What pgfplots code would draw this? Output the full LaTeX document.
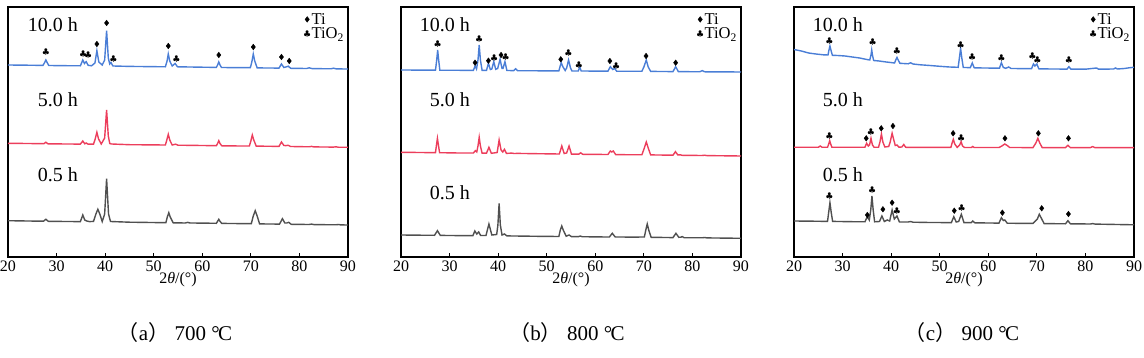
\documentclass[border=0pt]{standalone}
\usepackage{pgfplots}
\pgfplotsset{compat=1.18}
\usepackage{fontspec}
\setmainfont{Liberation Serif}
\newfontfamily\cjk{Noto Sans CJK SC}
\definecolor{cblue}{RGB}{74,126,214}
\definecolor{cred}{RGB}{236,62,92}
\definecolor{cgray}{RGB}{80,80,80}
\pgfplotsset{
  xrdax/.style={width=340pt,height=250pt,scale only axis,anchor=south west,
    xmin=20,xmax=90,ymin=-257,ymax=-7,xtick={20,30,...,90},ytick=\empty,
    tick align=inside,xtick pos=left,major tick length=4pt,
    xtick style={line width=0.8pt,black},axis line style={line width=1.1pt},
    ticklabel style={font=\fontsize{16}{16}\selectfont},
    /pgf/number format/assume math mode=true,
    xlabel={2\textit{θ}/(°)},
    xlabel style={font=\fontsize{16}{16}\selectfont,yshift=6pt},
    clip=false,
    legend style={draw=none,fill=none,at={(1,1)},anchor=north east,xshift=-3pt,yshift=-5pt,
      font=\fontsize{16.5}{16.5}\selectfont,row sep=0pt,inner sep=0pt,
      nodes={inner sep=1pt,font=\fontsize{16.5}{16.5}\selectfont}},
    legend cell align=left},
  curve/.style={line width=1.4pt,forget plot},
  timark/.style={only marks,mark=diamond*,mark size=2.8pt,black,
    legend image code/.code={\draw[##1] plot coordinates {(0.08cm,0cm)};}},
  tiomark/.style={only marks,mark=text,black,
    text mark={\fontsize{8.5}{8.5}\selectfont$\clubsuit$},
    legend image code/.code={\draw[##1] plot coordinates {(0.08cm,0cm)};}},
}
\begin{document}
\begin{tikzpicture}
\path[use as bounding box] (0pt,0pt) rectangle (1144pt,-358pt);
% ---------------- (a) 700
\begin{axis}[xrdax,at={(8pt,-257pt)}]
\addplot[curve,cblue] coordinates {(20,-65)(24,-65.2)(27.2,-65.4)(27.55,-62.5)(27.8,-60)(28.05,-62.5)(28.4,-65.5)(32,-65.7)(34.9,-65.8)(35.4,-60)(35.75,-63.5)(36.1,-61.7)(36.5,-65.3)(37.2,-65.8)(37.9,-63)(38.3,-50.7)(38.7,-62)(39.4,-65)(39.9,-60)(40.3,-30.7)(40.65,-58)(40.95,-64)(41.2,-62.5)(41.6,-66)(45,-66.4)(52.4,-66.8)(52.75,-61)(53.0,-54)(53.3,-61)(53.8,-66)(54.4,-63.5)(54.9,-66.8)(60,-67.2)(62.9,-67.4)(63.15,-65)(63.4,-62)(63.65,-65)(63.95,-67.5)(68,-67.7)(69.9,-67.6)(70.2,-62)(70.5,-54)(70.8,-61)(71.3,-67.9)(75.8,-68.1)(76.3,-64)(76.8,-67.5)(77.2,-67)(77.7,-66.2)(78.2,-68.3)(81.5,-68.5)(82.0,-67.8)(82.6,-68.6)(86.5,-68.8)(87,-68.2)(87.6,-68.9)(90,-69)};
\addplot[curve,cred] coordinates {(20,-143.3)(24,-143.5)(27.4,-143.7)(27.8,-142.2)(28.2,-143.8)(32,-144)(34.9,-144.1)(35.4,-141)(35.8,-143.8)(36.1,-143)(36.5,-144.2)(37.6,-144.2)(37.95,-139)(38.3,-132.3)(38.65,-139)(39.2,-144)(39.9,-138)(40.3,-110)(40.65,-136)(40.95,-143.5)(41.3,-144)(45,-144.7)(52.4,-145)(52.7,-140)(53.0,-134.3)(53.3,-140)(53.8,-145)(54.5,-144.2)(55,-145.2)(60,-145.5)(62.9,-145.7)(63.15,-143.5)(63.4,-140.7)(63.65,-143.5)(64,-145.8)(68,-146)(69.7,-146)(70.0,-141)(70.3,-135)(70.6,-140)(71.1,-146.1)(75.8,-146.4)(76.3,-142)(76.8,-145.5)(77.2,-145.6)(77.7,-145.3)(78.2,-146.5)(82,-146.8)(82.5,-146.4)(83,-146.9)(87,-147.1)(87.5,-146.8)(88,-147.2)(90,-147.3)};
\addplot[curve,cgray] coordinates {(20,-220.7)(24,-221)(27.3,-221.2)(27.8,-219.3)(28.3,-221.3)(32,-221.5)(34.9,-221.6)(35.4,-215)(35.8,-220)(36.2,-221)(36.8,-221.6)(37.6,-221.4)(38.1,-214)(38.5,-209.3)(38.9,-214)(39.4,-221.5)(39.9,-214)(40.3,-178.7)(40.7,-214)(41.1,-221.5)(45,-222.2)(52.5,-222.7)(52.8,-217)(53.1,-212.7)(53.4,-217)(54,-222.8)(56.5,-223)(57,-222.4)(57.5,-223)(60,-223.1)(62.9,-223.3)(63.15,-221.3)(63.4,-219.3)(63.65,-221.3)(64,-223.4)(68,-223.6)(70.1,-223.6)(70.5,-216)(70.9,-210.7)(71.3,-216)(71.8,-223.9)(75.9,-224.1)(76.5,-218.7)(77.0,-223)(77.4,-223)(77.8,-222.3)(78.3,-224.3)(82,-224.5)(82.5,-224.1)(83,-224.6)(87.5,-224.8)(88,-224.5)(88.5,-224.9)(90,-225)};
\addplot[timark] coordinates {(38.3,-44)(40.3,-23)(53.0,-46)(63.4,-55)(70.5,-47)(76.3,-57)(77.9,-61)};
\addlegendentry{Ti}
\addplot[tiomark] coordinates {(27.8,-52)(35.5,-54)(36.5,-55)(41.7,-59)(54.7,-59)};
\addlegendentry{TiO\textsubscript{2}}
\end{axis}
% ---------------- (b) 800
\begin{axis}[xrdax,at={(401pt,-257pt)}]
\addplot[curve,cblue] coordinates {(20,-70)(24,-70.1)(27.1,-70.2)(27.35,-60)(27.55,-50)(27.75,-60)(28.0,-70.2)(32,-70.3)(34.9,-70.4)(35.25,-66)(35.55,-69)(35.85,-60)(36.1,-45)(36.35,-60)(36.7,-70.4)(37.6,-70.4)(38.0,-63.3)(38.4,-69.5)(38.7,-69)(39.1,-61.7)(39.5,-69.3)(39.9,-68.5)(40.4,-59.3)(40.8,-68.5)(41.0,-68.5)(41.4,-61.7)(41.8,-70.5)(43.2,-70.6)(43.6,-68.8)(44.0,-70.7)(48,-70.8)(52.5,-70.9)(52.75,-66.5)(53.0,-62.7)(53.3,-66.5)(53.8,-70.5)(54.1,-68)(54.5,-60)(54.9,-68)(55.2,-71)(56.5,-71)(56.8,-67)(57.1,-71)(60,-71.1)(62.6,-71.2)(63.1,-66.7)(63.6,-69.5)(64.0,-68.5)(64.4,-71.2)(68,-71.3)(69.6,-71.2)(70.0,-67)(70.5,-60)(70.9,-67)(71.4,-71.4)(76.0,-71.6)(76.55,-66.7)(77.1,-71.6)(81.5,-71.8)(82,-70.6)(82.5,-71.8)(87,-71.9)(90,-72)};
\addplot[curve,cred] coordinates {(20,-152.3)(24,-152.5)(27.1,-152.7)(27.3,-145)(27.5,-138.3)(27.7,-145)(27.95,-152.7)(32,-153)(34.9,-153)(35.3,-150.7)(35.6,-152)(35.85,-146)(36.1,-137.3)(36.35,-146)(36.7,-153.2)(37.6,-153.2)(38.1,-147.3)(38.6,-153.3)(39.8,-152.5)(40.2,-140)(40.6,-150)(40.95,-152)(41.3,-149.3)(41.7,-153.4)(42.8,-153.1)(43.3,-153.5)(44,-153.4)(48,-153.7)(52.6,-154)(53.1,-146)(53.6,-153.5)(54.1,-153)(54.6,-146)(55.1,-154.2)(56.6,-154.2)(57.0,-152.8)(57.4,-154.3)(60,-154.4)(62.6,-154.5)(63.1,-151)(63.4,-152)(63.7,-151)(64.2,-154.6)(68,-154.8)(69.6,-154.7)(70.1,-148)(70.5,-142)(70.9,-148)(71.4,-154.9)(76.0,-155.2)(76.5,-151.7)(77.0,-155)(77.5,-154.8)(77.9,-155.3)(82,-155.5)(82.5,-155.2)(83,-155.6)(90,-156)};
\addplot[curve,cgray] coordinates {(20,-235)(24,-235.2)(26.9,-235.3)(27.5,-230.7)(28.1,-235.4)(32,-235.6)(34.8,-235.7)(35.2,-231)(35.6,-234)(36.0,-232)(36.4,-235.5)(37.5,-235.5)(38.1,-224)(38.7,-235)(39.7,-234.5)(39.95,-225)(40.2,-203.3)(40.45,-225)(40.8,-235)(41.3,-234)(41.8,-235.9)(48,-236.3)(52.5,-236.5)(52.8,-230)(53.1,-226)(53.4,-230)(54.0,-236.2)(54.6,-235)(55.1,-236.6)(56.5,-236.7)(56.9,-236)(57.3,-236.7)(60,-236.9)(62.9,-237)(63.5,-233.3)(64.1,-237)(68,-237.1)(70.1,-237)(70.4,-230)(70.7,-224)(71.0,-230)(71.5,-237.3)(76.0,-237.6)(76.6,-233.3)(77.2,-237.3)(77.6,-237.2)(77.9,-236.6)(78.3,-237.7)(82,-237.8)(82.5,-237.5)(83,-237.9)(90,-238.3)};
\addplot[timark] coordinates {(35.25,-62.7)(38.0,-60.7)(40.6,-55)(52.9,-59.3)(63.0,-61)(70.45,-56)(76.55,-62.7)};
\addlegendentry{Ti}
\addplot[tiomark] coordinates {(27.55,-44)(36.1,-39.5)(39.2,-58.3)(41.55,-57.5)(54.45,-53.3)(56.65,-65)(64.3,-66.7)};
\addlegendentry{TiO\textsubscript{2}}
\end{axis}
% ---------------- (c) 900
\begin{axis}[xrdax,at={(794pt,-257pt)}]
\addplot[curve,cblue] coordinates {(20,-49.5)(21.5,-51)(23,-53)(24.5,-54)(26,-54.8)(27.0,-55)(27.2,-50)(27.4,-46)(27.6,-50)(27.9,-55.3)(29,-55.5)(30.5,-56)(32,-57)(33.5,-58)(35,-59.5)(35.6,-60)(35.85,-55)(36.0,-50)(36.15,-55)(36.4,-60.5)(37.5,-61)(39,-62)(40.7,-63)(40.95,-60)(41.2,-57.5)(41.45,-60)(41.8,-63.3)(43.5,-63.8)(44,-62.8)(44.5,-64)(46,-64.8)(48,-65.5)(50,-66.3)(52,-67)(53.8,-67.3)(54.05,-58)(54.3,-48.5)(54.55,-58)(54.85,-67.5)(56.3,-67.6)(56.7,-63)(57.1,-67.8)(59,-68)(61,-68.1)(62.3,-68.2)(62.7,-62.7)(63.1,-67.5)(63.6,-68.3)(64.2,-67)(64.7,-68.5)(67,-68.6)(68.9,-68.7)(69.3,-64)(69.6,-66)(70.0,-64)(70.4,-68.8)(73,-69)(76.2,-69.1)(76.6,-66.7)(77.0,-69.1)(80,-69.2)(82.3,-68)(82.7,-69.2)(85.8,-69)(86.2,-68)(86.6,-69)(88,-68.5)(89,-67.8)(90,-67.3)};
\addplot[curve,cred] coordinates {(20,-147.3)(25,-147.3)(25.4,-146)(25.8,-147.3)(26.9,-147.3)(27.15,-144)(27.35,-140.7)(27.55,-144)(27.8,-147.3)(32,-147.3)(34.6,-147.3)(34.95,-143.3)(35.3,-146)(35.55,-145)(35.85,-138.3)(36.15,-145)(36.5,-147.3)(37.4,-147.3)(37.7,-142)(38.0,-134)(38.3,-142)(38.7,-147)(39.5,-146.5)(39.8,-142)(40.2,-133.3)(40.55,-140)(40.85,-145.5)(41.2,-145)(41.6,-147.2)(42.2,-147)(42.6,-144.5)(43.0,-147.3)(48,-147.4)(52.3,-147.4)(52.55,-143)(52.8,-139.3)(53.1,-144)(53.6,-147.4)(54.1,-145)(54.4,-141.7)(54.7,-146)(55.1,-147.5)(56.5,-147.5)(56.8,-146.5)(57.1,-147.5)(62.2,-147.5)(62.8,-146)(63.4,-144)(63.9,-145.5)(64.4,-147.5)(69.2,-147.6)(69.8,-143)(70.2,-138.3)(70.6,-143)(71.1,-147.6)(75.9,-147.6)(76.4,-145.3)(76.9,-147.6)(81,-147.6)(81.5,-146.6)(82,-147.7)(90,-147.7)};
\addplot[curve,cgray] coordinates {(20,-221)(24,-221.2)(26.9,-221.4)(27.15,-212)(27.4,-202.7)(27.65,-212)(27.95,-221.4)(32,-221.7)(34.6,-221.8)(35.1,-216.7)(35.5,-220)(35.8,-210)(36.05,-196)(36.3,-210)(36.6,-221.8)(37.6,-221.5)(38.1,-216)(38.6,-221.5)(39.2,-220)(39.7,-221)(40.2,-210)(40.65,-219)(41.2,-216)(41.7,-222)(43.5,-222)(44,-221.5)(44.5,-222.2)(48,-222.5)(52.4,-222.6)(52.9,-216.7)(53.4,-222)(53.9,-221.5)(54.45,-214.3)(55.0,-222.7)(56.5,-222.7)(56.8,-221)(57.2,-222.8)(60,-223)(62.2,-223.1)(62.7,-217.7)(63.1,-220.5)(63.4,-220)(63.9,-223.2)(67,-223.4)(69.2,-223.4)(69.7,-221)(70.1,-219)(70.5,-214.3)(70.9,-218)(71.5,-223.6)(75.9,-223.8)(76.4,-220.7)(76.9,-223.8)(81,-224)(81.5,-223.6)(82,-224.1)(90,-224.8)};
\addplot[timark] coordinates {(34.87,-138.3)(37.96,-128.3)(40.37,-126)(52.76,-133.3)(63.43,-138.3)(70.31,-133.3)(76.51,-138.3)(35.1,-215)(38.3,-209.3)(40.2,-202.7)(53.0,-210.7)(62.9,-212.7)(71.0,-208.3)(76.5,-214)};
\addlegendentry{Ti}
\addplot[tiomark] coordinates {(27.3,-41)(36.2,-42.7)(41.2,-51)(54.3,-45)(56.7,-57.3)(62.7,-58.3)(69.1,-56.3)(70.1,-60.3)(76.6,-60)(27.3,-136.7)(35.83,-132.7)(54.41,-138.3)(27.3,-196)(36.1,-190)(41.2,-211.7)(54.5,-208.3)};
\addlegendentry{TiO\textsubscript{2}}
\end{axis}
% ---------------- sample labels
\begin{scope}[every node/.style={font=\fontsize{20}{20}\selectfont,anchor=base east,inner sep=0pt}]
\node at (78pt,-32pt) {10.0 h};
\node at (78pt,-107pt) {5.0 h};
\node at (78pt,-181.7pt) {0.5 h};
\node at (470pt,-32pt) {10.0 h};
\node at (470pt,-107pt) {5.0 h};
\node at (470pt,-200pt) {0.5 h};
\node at (863pt,-32pt) {10.0 h};
\node at (863pt,-107pt) {5.0 h};
\node at (863pt,-181.7pt) {0.5 h};
\end{scope}
% ---------------- captions
\begin{scope}[every node/.style={font=\fontsize{21}{21}\selectfont,anchor=base,inner sep=0pt}]
\node at (175pt,-340.7pt) {{\cjk （}a{\cjk ）} 700 °\kern-0.08em C};
\node at (567pt,-340.7pt) {{\cjk （}b{\cjk ）} 800 °\kern-0.08em C};
\node at (962pt,-340.7pt) {{\cjk （}c{\cjk ）} 900 °\kern-0.08em C};
\end{scope}
\end{tikzpicture}
\end{document}
